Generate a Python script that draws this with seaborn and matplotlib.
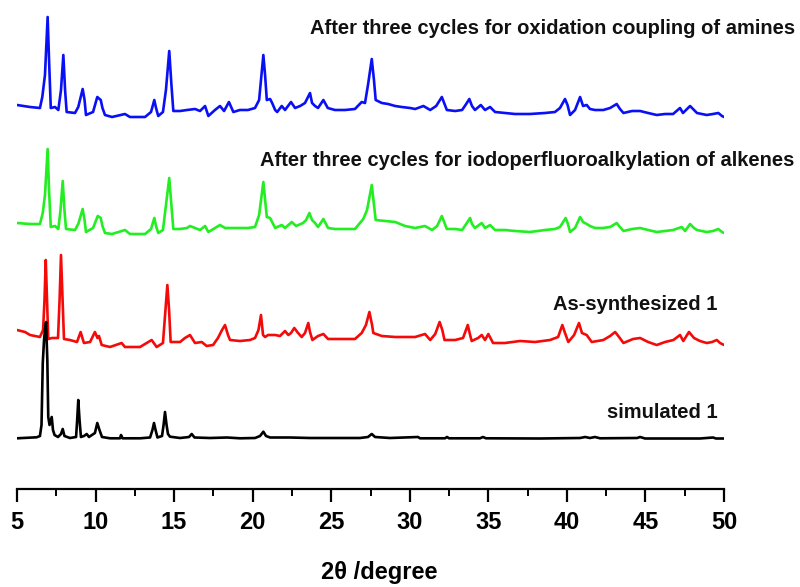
import matplotlib

matplotlib.use("Agg")
import matplotlib.pyplot as plt
import numpy as np
import pandas as pd
import seaborn as sns
from matplotlib.ticker import MultipleLocator

# 2theta / intensity (a.u., each trace relative to its own baseline)
amines_2theta = [5.0, 5.83, 6.46, 6.61, 6.78, 6.95, 7.04, 7.15, 7.42, 7.63, 7.80, 7.95, 8.06, 8.16, 8.69, 8.90,
                 9.18, 9.30, 9.39, 9.84, 10.11, 10.33, 10.44, 10.60, 11.05, 11.87, 12.19, 13.15, 13.53, 13.74,
                 13.85, 13.99, 14.29, 14.48, 14.69, 14.83, 14.95, 15.38, 15.82, 16.33, 16.65, 16.97, 17.18,
                 17.60, 17.92, 18.18, 18.49, 18.77, 19.19, 19.70, 20.15, 20.41, 20.53, 20.68, 20.79, 20.90,
                 21.11, 21.24, 21.43, 21.56, 21.85, 22.06, 22.44, 22.70, 23.02, 23.33, 23.52, 23.65, 23.78,
                 23.97, 24.16, 24.50, 24.78, 25.24, 25.88, 26.51, 26.94, 27.15, 27.34, 27.58, 27.72, 27.83,
                 28.22, 28.62, 29.07, 29.49, 30.02, 30.34, 30.87, 31.30, 31.68, 32.04, 32.19, 32.36, 32.89,
                 33.33, 33.59, 33.79, 33.96, 34.15, 34.52, 34.79, 35.11, 35.43, 36.06, 36.70, 37.65, 38.61,
                 39.24, 39.56, 39.88, 40.04, 40.20, 40.52, 40.84, 41.03, 41.26, 41.47, 41.79, 42.32, 42.75,
                 43.17, 43.38, 43.60, 44.15, 44.66, 45.17, 45.72, 46.25, 46.76, 47.20, 47.39, 47.58, 47.84,
                 48.09, 48.28, 48.90, 49.30, 49.64, 49.87, 50.0]
amines_int = [15, 13, 12, 23, 45, 103, 60, 12, 13, 10, 30, 65, 30, 8, 7, 13,
              31, 20, 5, 8, 23, 20, 12, 5, 3, 6, 3, 3, 8, 20,
              12, 4, 8, 30, 69, 35, 9, 9, 10, 11, 9, 14, 4,
              10, 14, 9, 18, 8, 10, 10, 12, 20, 40, 65, 45, 20,
              21, 17, 10, 8, 14, 10, 18, 12, 14, 17, 23, 27, 17,
              14, 12, 20, 12, 10, 10, 11, 18, 17, 35, 61, 40, 20,
              17, 16, 14, 13, 12, 11, 14, 10, 14, 23, 17, 10, 9,
              10, 16, 21, 14, 10, 15, 10, 13, 8, 7, 6, 6, 7,
              8, 12, 21, 15, 5, 10, 23, 14, 15, 11, 10, 10, 12,
              16, 11, 7, 9, 9, 7, 5, 6, 6, 12, 7, 10, 14,
              10, 7, 5, 6, 7, 4, 3]

alkenes_2theta = [5.0, 5.83, 6.46, 6.64, 6.78, 6.95, 7.04, 7.15, 7.42, 7.63, 7.77, 7.91, 8.02, 8.12, 8.69, 8.90,
                  9.18, 9.30, 9.39, 9.84, 10.14, 10.33, 10.44, 10.60, 11.05, 11.87, 12.19, 13.15, 13.53, 13.74,
                  13.85, 13.99, 14.29, 14.48, 14.69, 14.83, 14.95, 15.38, 15.82, 16.01, 16.33, 16.65, 16.97,
                  17.18, 17.60, 17.92, 18.24, 18.75, 19.19, 19.70, 20.15, 20.41, 20.53, 20.68, 20.79, 20.90,
                  21.11, 21.24, 21.43, 21.85, 22.06, 22.49, 22.76, 23.21, 23.40, 23.61, 23.78, 23.97, 24.16,
                  24.50, 24.80, 25.24, 25.88, 26.51, 27.04, 27.28, 27.58, 27.72, 27.83, 28.43, 29.07, 29.70,
                  30.34, 30.97, 31.42, 31.74, 32.04, 32.19, 32.36, 32.89, 33.33, 33.59, 33.84, 33.96, 34.15,
                  34.58, 34.79, 35.11, 35.43, 36.06, 36.70, 37.65, 38.61, 39.24, 39.56, 39.92, 40.07, 40.20,
                  40.52, 40.84, 41.03, 41.26, 41.47, 41.79, 42.30, 42.75, 43.17, 43.38, 43.60, 44.15, 44.66,
                  45.17, 45.72, 46.25, 46.76, 47.31, 47.52, 47.84, 48.09, 48.28, 48.90, 49.30, 49.64, 49.87, 50.0]
alkenes_int = [13, 12, 12, 23, 41, 87, 46, 9, 10, 7, 26, 55, 26, 7, 6, 12,
               27, 16, 4, 8, 20, 18, 10, 3, 2, 6, 2, 2, 7, 18,
               10, 3, 6, 31, 58, 31, 7, 7, 8, 10, 8, 6, 10,
               4, 8, 11, 8, 8, 8, 8, 9, 21, 36, 54, 36, 19,
               18, 14, 8, 11, 8, 14, 10, 13, 16, 23, 16, 13, 9,
               17, 8, 7, 7, 7, 17, 26, 51, 31, 16, 15, 14, 10,
               8, 10, 6, 10, 20, 14, 7, 7, 6, 12, 18, 12, 8,
               13, 8, 11, 6, 6, 5, 4, 6, 7, 9, 18, 12, 4,
               8, 19, 14, 12, 10, 8, 8, 9, 13, 9, 5, 7, 8,
               6, 4, 5, 6, 9, 5, 12, 8, 6, 4, 5, 7, 4, 3]

synth_2theta = [5.0, 5.51, 5.83, 6.46, 6.66, 6.75, 6.83, 6.91, 6.99, 7.23, 7.42, 7.61, 7.71, 7.80, 7.90, 7.99,
                8.37, 8.82, 9.05, 9.26, 9.65, 9.96, 10.12, 10.22, 10.39, 10.92, 11.66, 11.87, 12.83, 13.57,
                13.89, 14.29, 14.45, 14.57, 14.68, 14.78, 15.38, 15.69, 16.01, 16.33, 16.76, 17.07, 17.48,
                17.79, 18.05, 18.24, 18.43, 18.56, 19.19, 19.83, 20.15, 20.37, 20.53, 20.66, 20.79, 20.98,
                21.43, 21.74, 22.06, 22.27, 22.44, 22.65, 22.89, 23.12, 23.33, 23.54, 23.65, 23.80, 24.16,
                24.50, 24.80, 25.56, 26.51, 26.94, 27.21, 27.43, 27.60, 27.68, 28.22, 29.07, 29.70, 30.34,
                30.97, 31.30, 31.62, 31.90, 32.07, 32.21, 32.89, 33.39, 33.69, 33.84, 33.94, 34.35, 34.58,
                34.79, 35.00, 35.30, 36.06, 37.02, 37.97, 38.93, 39.44, 39.71, 39.88, 40.09, 40.46, 40.77,
                40.96, 41.26, 41.58, 42.32, 42.75, 43.07, 43.32, 43.60, 44.21, 44.66, 45.17, 45.72, 46.25,
                46.78, 47.20, 47.41, 47.77, 48.09, 48.47, 48.90, 49.24, 49.54, 49.75, 50.0]
synth_int = [18, 16, 13, 11, 18, 48, 88, 48, 9, 10, 10, 10, 48, 93, 48, 9,
             8, 6, 16, 5, 6, 16, 10, 12, 3, 1, 5, 1, 1, 8,
             1, 5, 38, 63, 38, 6, 6, 10, 13, 5, 6, 2, 3,
             10, 18, 23, 13, 8, 7, 8, 10, 18, 33, 13, 11, 13,
             13, 12, 17, 13, 15, 20, 15, 11, 15, 25, 16, 8, 12,
             14, 9, 9, 9, 15, 23, 36, 23, 15, 12, 11, 11, 11,
             14, 8, 14, 26, 18, 8, 8, 10, 23, 13, 7, 10, 13,
             8, 14, 5, 5, 7, 6, 8, 11, 23, 15, 6, 13, 25,
             15, 13, 6, 8, 12, 16, 11, 5, 9, 10, 6, 3, 6,
             8, 13, 7, 16, 10, 7, 5, 6, 8, 5, 3]

sim_2theta = [5.0, 6.25, 6.46, 6.56, 6.64, 6.72, 6.78, 6.85, 6.93, 6.99, 7.07, 7.21, 7.29, 7.39, 7.61, 7.80,
              7.91, 8.02, 8.37, 8.76, 8.83, 8.90, 8.98, 9.07, 9.26, 9.44, 9.58, 9.96, 10.11, 10.25, 10.41,
              10.92, 11.56, 11.62, 11.72, 12.83, 13.47, 13.62, 13.72, 13.82, 13.94, 14.23, 14.33, 14.42,
              14.52, 14.61, 14.74, 15.38, 15.95, 16.12, 16.30, 17.29, 18.37, 19.19, 20.15, 20.47, 20.68,
              20.85, 21.11, 22.38, 23.65, 24.92, 26.83, 27.34, 27.58, 27.79, 28.74, 30.53, 30.65, 32.24,
              32.37, 32.50, 34.47, 34.66, 34.85, 38.29, 40.84, 41.16, 41.47, 41.79, 42.11, 44.47, 44.66,
              44.98, 48.47, 49.30, 49.49, 50.0]
sim_int = [1.7, 2.7, 4, 15, 77, 100, 110, 118, 80, 23, 15, 23, 10, 5, 3, 6,
           11, 4, 2, 3, 20, 40, 20, 3, 4, 6, 3, 7, 17, 10, 3,
           1.7, 1.7, 5, 1.7, 1.7, 2.5, 10, 17, 10, 2.5, 4, 15, 28,
           15, 6, 3.3, 2, 3, 6, 2.5, 2, 2.5, 1.7, 2, 4, 8.3,
           4, 2.5, 2.5, 2, 2, 2, 3, 6, 3, 2, 3, 1.7, 1.7,
           3, 1.7, 1.7, 3, 1.7, 1.5, 2, 3, 2, 3, 1.7, 2, 3,
           1.5, 1.5, 2.5, 1.5, 1.5]

trace_names = ["After three cycles for oxidation coupling of amines",
               "After three cycles for iodoperfluoroalkylation of alkenes",
               "As-synthesized 1",
               "simulated 1"]
trace_offsets = [369, 253, 141, 49]
trace_colors = ["#0A10F5", "#22EE22", "#F50A0A", "#000000"]

frames = []
for name, tt, inten, off in zip(trace_names,
                                [amines_2theta, alkenes_2theta, synth_2theta, sim_2theta],
                                [amines_int, alkenes_int, synth_int, sim_int],
                                trace_offsets):
    frames.append(pd.DataFrame({"two_theta": tt, "intensity": np.array(inten, dtype=float) + off,
                                "sample": name}))
df = pd.concat(frames, ignore_index=True)

sns.set_theme(style="white")
plt.rcParams["font.family"] = ["Liberation Sans", "DejaVu Sans"]
narrow = ["Liberation Sans Narrow", "Liberation Sans", "DejaVu Sans"]

fig = plt.figure(figsize=(8.0, 5.87), dpi=100)
ax = fig.add_axes([17 / 800, 98 / 587, 707 / 800, 489 / 587])
sns.lineplot(data=df, x="two_theta", y="intensity", hue="sample", hue_order=trace_names,
             palette=dict(zip(trace_names, trace_colors)), estimator=None, sort=False,
             linewidth=1.9, legend=False, ax=ax)

ax.set_xlim(5, 50)
ax.set_ylim(0, 489)
for side in ["top", "right", "left"]:
    ax.spines[side].set_visible(False)
ax.spines["bottom"].set_linewidth(1.6)
ax.spines["bottom"].set_color("black")
ax.set_yticks([])
ax.set_ylabel("")
ax.xaxis.set_major_locator(MultipleLocator(5))
ax.xaxis.set_minor_locator(MultipleLocator(2.5))
ax.tick_params(axis="x", which="major", direction="out", length=9.5, width=1.6, color="black",
               bottom=True, pad=6)
ax.tick_params(axis="x", which="minor", direction="out", length=5, width=1.4, color="black", bottom=True)
for lab in ax.get_xticklabels():
    lab.set_family(narrow)
    lab.set_fontsize(17)
    lab.set_fontweight("bold")
    lab.set_color("black")

ax.set_xlabel("2θ /degree", family=narrow, fontsize=17, fontweight="bold", color="black",
              va="center")
ax.xaxis.set_label_coords((379 - 17) / 707, -(573 - 489) / 489)

label_x = [54.5, 54.5, 49.6, 49.6]
label_y = [461, 329, 184, 76]
for name, lx, ly in zip(trace_names, label_x, label_y):
    ax.text(lx, ly, name, ha="right", va="center", fontsize=14.5, fontweight="bold",
            color="#111111", clip_on=False)

fig.savefig("out.png", dpi=100)
